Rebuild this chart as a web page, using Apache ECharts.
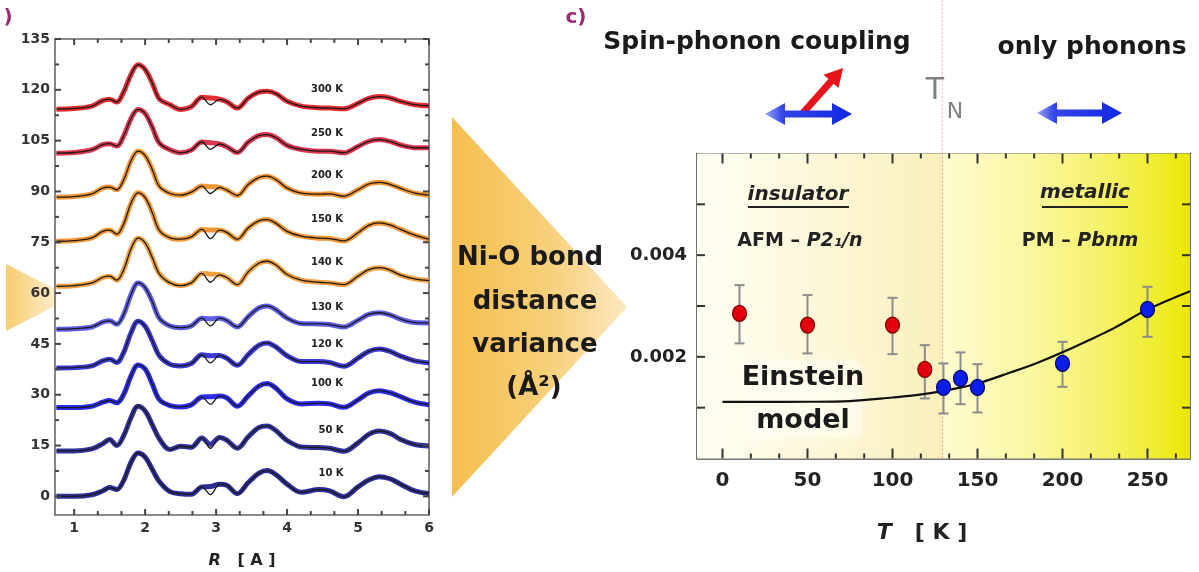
<!DOCTYPE html>
<html><head><meta charset="utf-8">
<script src="https://cdn.jsdelivr.net/npm/echarts@6/dist/echarts.min.js"></script>
<style>html,body{margin:0;padding:0;background:#fff}#c{width:1199px;height:572px}</style>
</head><body><div id="c"></div>
<script>
// ---------- Panel b: EXAFS Fourier transforms (offset curves) ----------
const rGrid = [0.75,1.0,1.25,1.4,1.5,1.6,1.7,1.8,1.9,2.0,2.1,2.2,2.35,2.5,2.65,2.8,2.92,3.05,3.15,3.3,3.45,3.6,3.72,3.85,4.0,4.2,4.45,4.6,4.8,5.0,5.15,5.3,5.45,5.6,5.8,6.0];
const ft10K  = [0.0,0.0,0.5,1.6,2.6,2.0,4.8,10.0,12.8,11.6,8.0,4.4,1.4,0.8,0.6,2.8,2.9,3.6,3.3,0.8,4.0,6.8,7.6,6.3,3.6,1.2,2.0,1.6,-0.1,2.8,4.8,5.8,5.2,3.6,1.6,0.8];
const ft50K  = [13.4,13.4,14.0,15.5,16.8,15.0,18.0,23.2,26.6,25.2,21.2,17.0,13.8,14.8,14.5,17.2,15.4,17.4,16.6,14.2,17.5,20.3,20.8,19.3,16.5,14.6,14.4,14.2,13.3,15.8,18.3,19.3,18.6,16.8,15.3,14.9];
const ft100K = [26.2,26.2,26.6,27.8,28.3,27.6,30.2,35.5,38.8,37.6,33.2,28.6,26.8,26.4,27.0,29.3,29.4,29.6,29.1,26.6,29.6,32.5,33.3,31.8,28.8,27.3,27.5,27.3,26.3,28.5,30.5,31.2,30.6,29.4,27.8,27.0];
const ft120K = [37.9,38.0,38.5,40.0,40.5,39.5,42.6,48.2,51.7,50.2,46.0,41.5,39.0,38.5,39.2,41.8,41.5,41.6,40.8,38.7,41.8,44.6,45.3,44.0,41.5,39.8,39.8,39.5,38.4,40.8,42.8,43.5,42.8,41.4,40.0,39.4];
const ft130K = [49.3,49.5,50.0,51.4,51.8,50.8,53.8,59.5,63.0,61.6,57.5,52.6,50.3,49.8,50.3,52.6,52.4,52.6,51.9,50.0,53.0,55.6,56.2,55.0,52.6,51.0,50.9,50.7,50.0,52.0,53.7,54.2,53.6,52.3,51.3,51.2];
const ft140K = [62.0,62.2,63.0,64.6,65.0,63.8,67.0,73.0,76.2,74.8,70.5,65.7,63.0,62.2,63.0,65.8,65.6,65.4,64.6,62.5,66.2,68.8,69.4,68.2,65.5,63.8,63.2,63.0,62.5,65.0,66.9,67.5,66.8,65.3,64.2,63.7];
const ft150K = [75.3,75.5,76.3,78.2,78.6,77.4,80.5,86.5,89.6,88.2,83.8,78.5,76.3,75.9,76.6,78.8,78.6,78.6,77.9,75.9,79.2,81.3,81.7,80.5,78.2,76.8,76.2,76.1,75.4,77.8,80.0,80.7,80.1,78.8,77.1,75.9];
const ft200K = [88.3,88.5,89.3,91.0,91.3,90.5,93.5,99.0,101.9,100.6,96.5,91.5,89.4,88.9,89.8,91.6,91.4,91.2,90.4,88.8,92.0,94.1,94.5,93.4,91.0,89.5,89.2,89.3,88.6,90.5,92.2,92.7,92.1,90.9,89.5,88.9];
const ft250K = [101.3,101.5,102.3,103.8,104.1,103.4,106.5,111.5,114.2,113.0,109.0,104.3,102.3,101.4,102.2,104.6,104.4,104.0,103.2,101.5,104.5,106.5,106.8,105.8,103.6,102.4,101.9,101.9,101.4,103.3,104.8,105.3,104.8,103.7,102.9,102.9];
const ft300K = [114.3,114.5,115.2,116.8,117.2,116.4,119.5,124.5,127.4,126.0,122.0,117.3,115.6,114.2,115.0,117.8,117.6,117.2,116.5,114.6,117.5,119.3,119.6,118.8,116.6,115.2,114.7,114.6,114.4,116.0,117.5,118.0,117.6,116.6,115.6,115.3];
// fit value in the small dip near R = 2.92 (elsewhere the fit follows the data)
const fitDipR = 2.92;
const fitDip = [0.5, 14.2, 27.2, 39.4, 50.3, 63.2, 76.1, 89.4, 102.4, 115.6];
const tempNames = ['10 K','50 K','100 K','120 K','130 K','140 K','150 K','200 K','250 K','300 K'];
const ftAll = [ft10K, ft50K, ft100K, ft120K, ft130K, ft140K, ft150K, ft200K, ft250K, ft300K];
const yTicksB = [0,15,30,45,60,75,90,105,120,135];
const xTicksB = [1,2,3,4,5,6];

// ---------- Panel c: Ni-O bond distance variance ----------
const insT = [10, 50, 100, 119];
const insS = [0.002854, 0.002624, 0.002624, 0.001752];
const insLo = [0.002264, 0.002067, 0.002053, 0.001181];
const insHi = [0.003411, 0.003215, 0.003161, 0.002230];
const metT = [130, 140, 150, 200, 250];
const metS = [0.001398, 0.001575, 0.001398, 0.001870, 0.002933];
const metLo = [0.000886, 0.001069, 0.000906, 0.001409, 0.002394];
const metHi = [0.001870, 0.002087, 0.001856, 0.002295, 0.003378];
const einT = [0, 25, 50, 75, 100, 115, 130, 150, 170, 185, 200, 215, 230, 250, 275];
const einS = [0.001114, 0.001114, 0.001116, 0.00113, 0.00120, 0.00125, 0.00133, 0.001476, 0.00170, 0.00188, 0.00209, 0.00232, 0.00256, 0.00293, 0.00329];
const tN = 129.3;
const xTicksC = [0,50,100,150,200,250];
const yTicksC = [0.001,0.002,0.003,0.004,0.005];
const yLabelsC = [0.002,0.004];

// ---------- styles / ranges ----------
const FONT = 'DejaVu Sans';
const curveColors = ['#16168c','#1c1c96','#1414f2','#2424d4','#4c4ee6','#f0962c','#f08c20','#f28a1c','#d8203c','#e3161c'];
const B = { xmin: 0.73, xmax: 6, ymin: -5.5, ymax: 135 };
const C = { xmin: -15, xmax: 275, ymin: 0, ymax: 0.006 };

const xMinorB = []; for (let i = 1; i < 6; i++) { xMinorB.push(i + 1/3, i + 2/3); }
const yMinorB = yTicksB.slice(0, -1).map(v => v + 7.5);
const xMinorC = []; for (let i = 0; i < 6; i++) { xMinorC.push(i*50 + 50/3, i*50 + 100/3); }

function mkAxis(grid, pos, min, max, labels, color, lab) {
  return {
    type: 'value', gridIndex: grid, position: pos, min: min, max: max,
    axisLine: { show: true, onZero: false, lineStyle: { color: color, width: 1.6 } },
    axisTick: { show: false },
    axisLabel: labels ? Object.assign({ show: true, customValues: labels, fontFamily: FONT, fontWeight: 'bold' }, lab) : { show: false },
    splitLine: { show: false }, minorTick: { show: false }
  };
}

const xAxes = [
  mkAxis(0, 'bottom', B.xmin, B.xmax, xTicksB, '#666', { fontSize: 14, color: '#333', margin: 6 }),
  mkAxis(0, 'top', B.xmin, B.xmax, null, '#666'),
  mkAxis(1, 'bottom', C.xmin, C.xmax, xTicksC, '#4a4a4a', { fontSize: 20, color: '#222', margin: 12 }),
  mkAxis(1, 'top', C.xmin, C.xmax, null, '#4a4a4a')
];
const yAxes = [
  mkAxis(0, 'left', B.ymin, B.ymax, yTicksB, '#666', { fontSize: 14, color: '#333', margin: 5 }),
  mkAxis(0, 'right', B.ymin, B.ymax, null, '#666'),
  mkAxis(1, 'left', C.ymin, C.ymax, yLabelsC, '#4a4a4a', { fontSize: 18, color: '#222', margin: 10, formatter: v => (+v).toFixed(3) }),
  mkAxis(1, 'right', C.ymin, C.ymax, null, '#4a4a4a')
];

const series = [];
ftAll.forEach((arr, k) => {
  series.push({ type: 'line', xAxisIndex: 0, yAxisIndex: 0, silent: true, symbol: 'none', smooth: 0.35, z: 2,
    data: rGrid.map((r, i) => [r, arr[i]]), lineStyle: { color: curveColors[k], width: 5, opacity: 0.9 } });
  series.push({ type: 'line', xAxisIndex: 0, yAxisIndex: 0, silent: true, symbol: 'none', smooth: 0.35, z: 3,
    data: rGrid.map((r, i) => [r, r === fitDipR ? fitDip[k] : arr[i]]), lineStyle: { color: '#1a1a1a', width: 1.3 } });
});

const gradLeft = new echarts.graphic.LinearGradient(0, 0, 1, 0, [
  { offset: 0, color: '#fffef4' }, { offset: 0.6, color: '#fcf6d2' }, { offset: 1, color: '#faf0bc' }]);
const gradRight = new echarts.graphic.LinearGradient(0, 0, 1, 0, [
  { offset: 0, color: '#fdfbd0' }, { offset: 0.35, color: '#faf7a2' }, { offset: 0.62, color: '#f6f270' },
  { offset: 0.88, color: '#f0ec2c' }, { offset: 1, color: '#ebe700' }]);

series.push({ type: 'line', xAxisIndex: 2, yAxisIndex: 2, silent: true, z: 1, symbol: 'none',
  data: [[tN, 0.003]], lineStyle: { opacity: 0 },
  markArea: { silent: true, data: [
    [{ xAxis: C.xmin, itemStyle: { color: gradLeft } }, { xAxis: tN }],
    [{ xAxis: tN, itemStyle: { color: gradRight } }, { xAxis: C.xmax }]
  ] },
  markLine: { silent: true, symbol: ['none', 'none'], label: { show: false },
    lineStyle: { color: '#e39a88', width: 1, type: [2, 2] }, data: [{ xAxis: tN }] }
});
series.push({ type: 'line', xAxisIndex: 2, yAxisIndex: 2, silent: true, symbol: 'none', smooth: 0.35, z: 5,
  data: einT.map((t, i) => [t, einS[i]]), lineStyle: { color: '#111', width: 2.2 } });

function errSeries(T, lo, hi) {
  return { type: 'custom', xAxisIndex: 2, yAxisIndex: 2, silent: true, z: 5,
    data: T.map((t, i) => [t, lo[i], hi[i]]), encode: { x: 0, y: [1, 2] },
    renderItem: function (params, api) {
      const a = api.coord([api.value(0), api.value(1)]);
      const b = api.coord([api.value(0), api.value(2)]);
      const w = 5;
      return { type: 'group', children: [
        { type: 'line', shape: { x1: a[0], y1: a[1], x2: b[0], y2: b[1] }, style: { stroke: '#8c8c8c', lineWidth: 2 } },
        { type: 'line', shape: { x1: a[0] - w, y1: a[1], x2: a[0] + w, y2: a[1] }, style: { stroke: '#8c8c8c', lineWidth: 2 } },
        { type: 'line', shape: { x1: b[0] - w, y1: b[1], x2: b[0] + w, y2: b[1] }, style: { stroke: '#8c8c8c', lineWidth: 2 } }
      ] };
    } };
}
series.push(errSeries(insT, insLo, insHi));
series.push(errSeries(metT, metLo, metHi));
series.push({ type: 'scatter', xAxisIndex: 2, yAxisIndex: 2, silent: true, z: 6, symbol: 'circle', symbolSize: [14, 16],
  data: insT.map((t, i) => [t, insS[i]]), itemStyle: { color: '#e2000e', borderColor: '#7a0000', borderWidth: 1.2, opacity: 1 } });
series.push({ type: 'scatter', xAxisIndex: 2, yAxisIndex: 2, silent: true, z: 6, symbol: 'circle', symbolSize: [14, 16],
  data: metT.map((t, i) => [t, metS[i]]), itemStyle: { color: '#0a1ee8', borderColor: '#00006a', borderWidth: 1.2, opacity: 1 } });

const chart = echarts.init(document.getElementById('c'));
chart.setOption({
  animation: false, backgroundColor: '#fff',
  grid: [
    { left: 55, top: 39, width: 374, height: 476 },
    { left: 697, top: 153.5, width: 493, height: 305 }
  ],
  xAxis: xAxes, yAxis: yAxes, series: series
});

// ---------- annotations ----------
const g = [];
function seg(x1, y1, x2, y2, color, w, z) {
  return { type: 'line', z: z || 30, silent: true, shape: { x1: x1, y1: y1, x2: x2, y2: y2 }, style: { stroke: color, lineWidth: w } };
}
// inward ticks on all four sides, positioned through the axis scales
function addTicks(xi, yi, R, xs, ys, color) {
  const X = v => chart.convertToPixel({ xAxisIndex: xi }, v);
  const Y = v => chart.convertToPixel({ yAxisIndex: yi }, v);
  const xl = X(R.xmin), xr = X(R.xmax), yb = Y(R.ymin), yt = Y(R.ymax);
  xs.forEach(function (t) {
    const px = X(t[0]);
    g.push(seg(px, yb, px, yb - t[1], color, 2));
    g.push(seg(px, yt, px, yt + t[1], color, 2));
  });
  ys.forEach(function (t) {
    const py = Y(t[0]);
    g.push(seg(xl, py, xl + t[1], py, color, 2));
    g.push(seg(xr, py, xr - t[1], py, color, 2));
  });
}
addTicks(0, 0, B, xTicksB.map(v => [v, 6]).concat(xMinorB.map(v => [v, 4])),
  yTicksB.map(v => [v, 6]).concat(yMinorB.map(v => [v, 4])), '#444');
addTicks(2, 2, C, xTicksC.map(v => [v, 10]).concat(xMinorC.map(v => [v, 5])),
  yTicksC.map(v => [v, 8]), '#333');

function txt(x, y, text, size, opts) {
  return { type: 'text', z: 20, silent: true, style: Object.assign({
    x: x, y: y, text: text, fontFamily: FONT, fontWeight: 'bold', fontSize: size, fill: '#1a1a1a',
    align: 'center', verticalAlign: 'middle', textAlign: 'center', textVerticalAlign: 'middle' }, opts || {}) };
}
function arrowPts(x1, y1, x2, y2, sw, hl, hw, dbl) {
  const dx = x2 - x1, dy = y2 - y1, L = Math.hypot(dx, dy), ux = dx / L, uy = dy / L, nx = -uy, ny = ux;
  const P = (a, b) => [x1 + ux * a + nx * b, y1 + uy * a + ny * b];
  if (dbl) return [P(0,0),P(hl,hw),P(hl,sw/2),P(L-hl,sw/2),P(L-hl,hw),P(L,0),P(L-hl,-hw),P(L-hl,-sw/2),P(hl,-sw/2),P(hl,-hw)];
  return [P(0,sw/2),P(L-hl,sw/2),P(L-hl,hw),P(L,0),P(L-hl,-hw),P(L-hl,-sw/2),P(0,-sw/2)];
}
const blueGrad = () => new echarts.graphic.LinearGradient(0, 0, 1, 0, [
  { offset: 0, color: '#9aa6f0' }, { offset: 0.2, color: '#3446e8' }, { offset: 1, color: '#1026e4' }]);

const tnPx = chart.convertToPixel({ xAxisIndex: 2 }, tN);
const gridTop = chart.convertToPixel({ yAxisIndex: 2 }, C.ymax);

const labelPos = [[331,473],[331,430],[327,383],[327,344],[327,307],[327,262],[327,219],[327,175],[327,133],[327,89]];
g.push({ type: 'polygon', z: 0, silent: true, shape: { points: [[6,264],[55,289],[55,306],[6,331]] },
  style: { fill: new echarts.graphic.LinearGradient(0,0,1,0,[{offset:0,color:'#f6cd6e'},{offset:1,color:'#fcecc8'}]) } });
g.push({ type: 'polygon', z: 0, silent: true, shape: { points: [[452,117],[627,307],[452,497]] },
  style: { fill: new echarts.graphic.LinearGradient(0,0,1,0,[{offset:0,color:'#f5bf4e'},{offset:0.55,color:'#f8cf7a'},{offset:1,color:'#fde8c0'}]) } });
g.push(txt(530, 258, 'Ni-O bond', 26));
g.push(txt(535, 302, 'distance', 26));
g.push(txt(535, 345, 'variance', 26));
g.push(txt(534, 388, '(Å²)', 26));
g.push(txt(8, 18, ')', 20, { fill: '#9a2a72' }));
g.push(txt(576, 18, 'c)', 20, { fill: '#9a2a72' }));
labelPos.forEach((p, k) => g.push(txt(p[0], p[1], tempNames[k], 10, { fill: '#222' })));
g.push(txt(242, 561, '{i|R}   {b|[ A ]}', 16, { rich: {
  i: { fontFamily: FONT, fontWeight: 'bold', fontStyle: 'italic', fontSize: 16, fill: '#222' },
  b: { fontFamily: FONT, fontWeight: 'bold', fontSize: 16, fill: '#222' } } }));
g.push(txt(757, 42, 'Spin-phonon coupling', 25));
g.push(txt(1092, 47, 'only phonons', 25));
g.push({ type: 'line', z: 1, silent: true, shape: { x1: tnPx, y1: 0, x2: tnPx, y2: gridTop },
  style: { stroke: '#efb0b4', lineWidth: 1, lineDash: [2, 2] } });
g.push(txt(935, 91, 'T', 30, { fill: '#808080', fontWeight: 'normal' }));
g.push(txt(955, 112, 'N', 22, { fill: '#808080', fontWeight: 'normal' }));
g.push({ type: 'polygon', z: 18, silent: true, shape: { points: arrowPts(802, 114, 843, 68, 7, 18, 10, false) }, style: { fill: '#e8141c' } });
g.push({ type: 'polygon', z: 19, silent: true, shape: { points: arrowPts(765, 114, 852, 114, 7, 20, 11, true) }, style: { fill: blueGrad() } });
g.push({ type: 'polygon', z: 19, silent: true, shape: { points: arrowPts(1037, 113, 1122, 113, 7, 20, 11, true) }, style: { fill: blueGrad() } });
g.push({ type: 'rect', z: 3, silent: true, shape: { x: 746, y: 360, width: 116, height: 78, r: 10 },
  style: { fill: 'rgba(255,255,248,0.4)', shadowBlur: 18, shadowColor: 'rgba(255,255,250,0.9)' } });
g.push(txt(798, 195, 'insulator', 20, { fontStyle: 'italic', fill: '#222' }));
g.push(seg(748, 207, 849, 207, '#222', 2, 20));
g.push(txt(1085, 193, 'metallic', 20, { fontStyle: 'italic', fill: '#222' }));
g.push(seg(1042, 207, 1128, 207, '#222', 2, 20));
g.push(txt(800, 241, '{n|AFM – }{i|P2₁/n}', 19, { rich: {
  n: { fontFamily: FONT, fontWeight: 'bold', fontSize: 19, fill: '#222' },
  i: { fontFamily: FONT, fontWeight: 'bold', fontStyle: 'italic', fontSize: 19, fill: '#222' } } }));
g.push(txt(1080, 241, '{n|PM – }{i|Pbnm}', 19, { rich: {
  n: { fontFamily: FONT, fontWeight: 'bold', fontSize: 19, fill: '#222' },
  i: { fontFamily: FONT, fontWeight: 'bold', fontStyle: 'italic', fontSize: 19, fill: '#222' } } }));
g.push(txt(803, 378, 'Einstein', 27));
g.push(txt(803, 421, 'model', 27));
g.push(txt(922, 533, '{i|T}   {b|[ K ]}', 22, { rich: {
  i: { fontFamily: FONT, fontWeight: 'bold', fontStyle: 'italic', fontSize: 22, fill: '#222' },
  b: { fontFamily: FONT, fontWeight: 'bold', fontSize: 22, fill: '#222' } } }));
chart.setOption({ graphic: g });
</script>
</body></html>
